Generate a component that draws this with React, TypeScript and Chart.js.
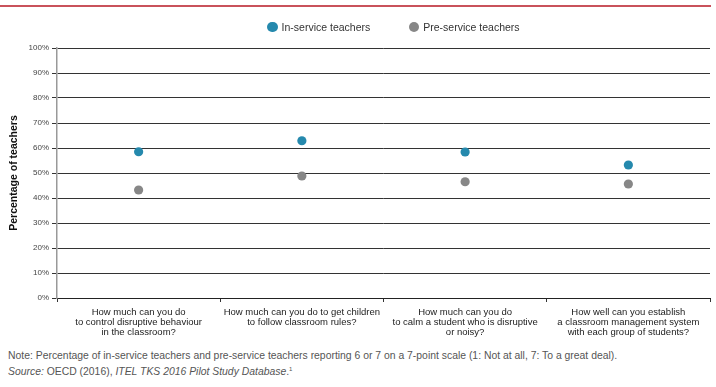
import React, { useEffect, useRef } from "react";
import { Chart, registerables } from "chart.js";

Chart.register(...registerables);

const categories: string[][] = [
  ["How much can you do", "to control disruptive behaviour", "in the classroom?"],
  ["How much can you do to get children", "to follow classroom rules?"],
  ["How much can you do", "to calm a student who is disruptive", "or noisy?"],
  ["How well can you establish", "a classroom management system", "with each group of students?"],
];
const inService: number[] = [58.5, 62.9, 58.4, 53.2];
const preService: number[] = [43.2, 48.8, 46.5, 45.6];
const seriesNames: string[] = ["In-service teachers", "Pre-service teachers"];

const BLUE = "#2589ad";
const GREY = "#878787";
const FONT = "'Liberation Sans', Arial, Helvetica, sans-serif";

export default function App() {
  const ref = useRef<HTMLCanvasElement | null>(null);

  useEffect(() => {
    if (!ref.current) return;
    Chart.defaults.font.family = FONT;
    const chart = new Chart(ref.current, {
      type: "line",
      data: {
        labels: categories,
        datasets: [
          {
            label: seriesNames[0],
            data: inService,
            showLine: false,
            pointRadius: 4.6,
            pointHoverRadius: 4.6,
            pointBackgroundColor: BLUE,
            pointBorderWidth: 0,
            borderColor: BLUE,
            backgroundColor: BLUE,
          },
          {
            label: seriesNames[1],
            data: preService,
            showLine: false,
            pointRadius: 4.6,
            pointHoverRadius: 4.6,
            pointBackgroundColor: GREY,
            pointBorderWidth: 0,
            borderColor: GREY,
            backgroundColor: GREY,
          },
        ],
      },
      options: {
        responsive: false,
        animation: false,
        devicePixelRatio: 1,
        layout: { padding: { top: 48, right: 6, left: 0, bottom: 0 } },
        plugins: {
          legend: { display: false },
          tooltip: { enabled: false },
        },
        scales: {
          x: {
            offset: true,
            grid: {
              offset: true,
              drawOnChartArea: false,
              drawTicks: true,
              tickLength: 4,
              color: "#333",
            },
            border: { color: "#222", width: 1 },
            ticks: {
              color: "#222",
              font: { size: 9.5, lineHeight: 1.02 },
              padding: 6,
              maxRotation: 0,
              minRotation: 0,
              autoSkip: false,
            },
            afterFit: (scale: any) => {
              scale.height = 47;
            },
          },
          y: {
            min: 0,
            max: 100,
            ticks: {
              stepSize: 10,
              color: "#444",
              font: { size: 8 },
              padding: 3,
              callback: (v: any) => v + "%",
            },
            grid: {
              color: "#333",
              lineWidth: 1,
              tickLength: 5,
            },
            border: { color: "#999", width: 1.5 },
            title: {
              display: true,
              text: "Percentage of teachers",
              color: "#111",
              font: { size: 10.5, weight: "bold" },
              padding: 8,
            },
            afterFit: (scale: any) => {
              scale.width = 57;
            },
          },
        },
      },
    } as any);
    return () => chart.destroy();
  }, []);

  const legendItem = (color: string, label: string, cx: number) => (
    <div
      style={{
        position: "absolute",
        left: cx - 5.3,
        top: 21.5,
        height: 11,
        display: "flex",
        alignItems: "center",
        whiteSpace: "nowrap",
      }}
    >
      <span
        style={{
          display: "inline-block",
          width: 10.6,
          height: 10.6,
          borderRadius: "50%",
          background: color,
          marginRight: 4,
        }}
      />
      <span style={{ fontSize: 10.5, color: "#333" }}>{label}</span>
    </div>
  );

  return (
    <div
      style={{
        position: "absolute",
        left: 0,
        top: 0,
        width: 716,
        height: 387,
        background: "#fff",
        fontFamily: FONT,
        overflow: "hidden",
      }}
    >
      <div
        style={{
          position: "absolute",
          left: 0,
          top: 5,
          width: 711,
          height: 2,
          background: "#c9525b",
        }}
      />
      <canvas
        ref={ref}
        width={716}
        height={345}
        style={{ position: "absolute", left: 0, top: 0, width: 716, height: 345 }}
      />
      {legendItem(BLUE, seriesNames[0], 272.3)}
      {legendItem(GREY, seriesNames[1], 414)}
      <div
        style={{
          position: "absolute",
          left: 8,
          top: 349,
          fontSize: 10.4,
          lineHeight: "13.5px",
          color: "#555",
          whiteSpace: "nowrap",
        }}
      >
        <div>
          Note: Percentage of in-service teachers and pre-service teachers reporting 6 or 7 on a 7-point scale (1: Not at all, 7: To a great deal).
        </div>
        <div>
          <i>Source:</i> OECD (2016), <i>ITEL TKS 2016 Pilot Study Database</i>.
          <sup style={{ fontSize: 6 }}>1</sup>
        </div>
      </div>
    </div>
  );
}
